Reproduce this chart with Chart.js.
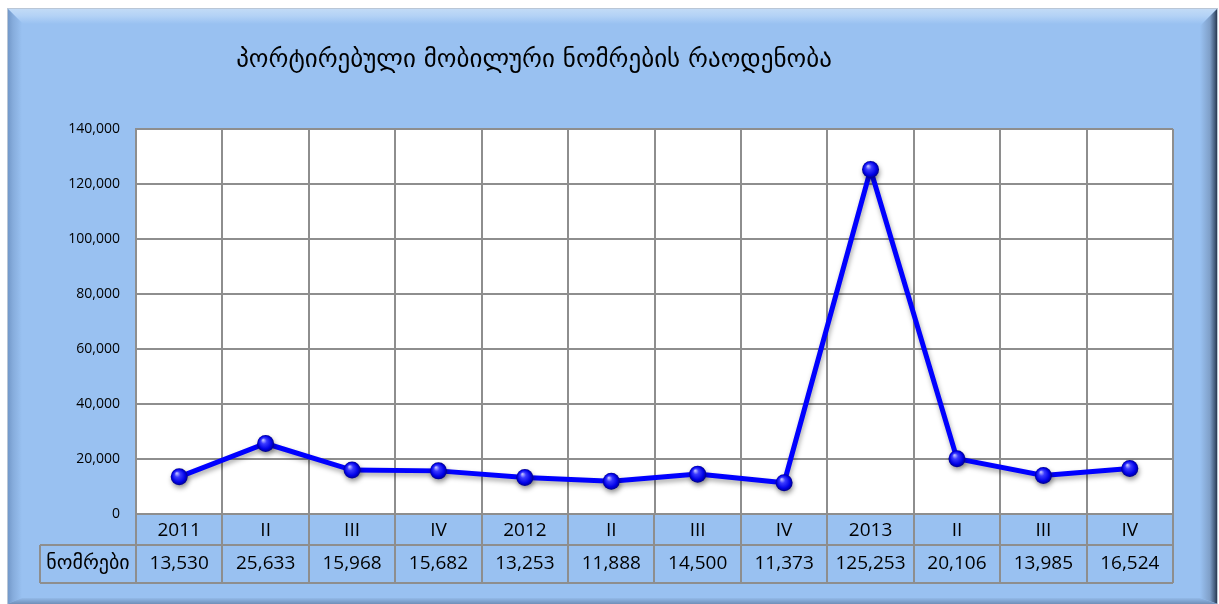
<!DOCTYPE html>
<html>
<head>
<meta charset="utf-8">
<script src="https://cdn.jsdelivr.net/npm/chart.js@4/dist/chart.umd.min.js"></script>
<style>
  html, body { margin: 0; padding: 0; background: #fff; }
  #wrap { width: 1219px; height: 604px; }
</style>
</head>
<body>
<div id="wrap"><canvas id="numbersChart" width="1219" height="604"></canvas></div>
<script>
var chartTitle = "პორტირებული მობილური ნომრების რაოდენობა";
var seriesName = "ნომრები";
var quarters = ["2011", "II", "III", "IV", "2012", "II", "III", "IV", "2013", "II", "III", "IV"];
var ported = [13530, 25633, 15968, 15682, 13253, 11888, 14500, 11373, 125253, 20106, 13985, 16524];
var yTicks = [0, 20000, 40000, 60000, 80000, 100000, 120000, 140000];

var gridGrey = '#8e8e8e';
var panelBlue = '#99c1f1';
var txtFont = '"Open Sans", "DejaVu Sans", sans-serif';
var geoFont = '"DejaVu Sans", sans-serif';

// frame + bevel behind everything
var framePlugin = {
    id: 'frame',
    beforeDraw: function(chart) {
        var ctx = chart.ctx;
        var W = chart.width, H = chart.height;
        var L = 7, T = 8, R = 1218, B = 604;
        ctx.save();
        ctx.fillStyle = '#ffffff';
        ctx.fillRect(0, 0, W, H);
        ctx.fillStyle = panelBlue;
        ctx.fillRect(L, T, R - L, B - T);
        // top bevel
        var g = ctx.createLinearGradient(0, T, 0, T + 16);
        g.addColorStop(0, '#c4dcf6');
        g.addColorStop(0.5, '#b3d2f6');
        g.addColorStop(1, panelBlue);
        ctx.fillStyle = g;
        ctx.beginPath();
        ctx.moveTo(L, T); ctx.lineTo(R, T); ctx.lineTo(R - 16, T + 16); ctx.lineTo(L + 16, T + 16);
        ctx.closePath(); ctx.fill();
        // left bevel
        g = ctx.createLinearGradient(L, 0, L + 15, 0);
        g.addColorStop(0, '#6f95c6');
        g.addColorStop(0.4, '#86acdc');
        g.addColorStop(1, panelBlue);
        ctx.fillStyle = g;
        ctx.beginPath();
        ctx.moveTo(L, T); ctx.lineTo(L + 15, T + 15); ctx.lineTo(L + 15, B - 6); ctx.lineTo(L, B);
        ctx.closePath(); ctx.fill();
        // right bevel
        g = ctx.createLinearGradient(R - 18, 0, R, 0);
        g.addColorStop(0, panelBlue);
        g.addColorStop(0.55, '#7f9fc8');
        g.addColorStop(0.8, '#4a6283');
        g.addColorStop(1, '#1e2a3c');
        ctx.fillStyle = g;
        ctx.beginPath();
        ctx.moveTo(R, T); ctx.lineTo(R, B); ctx.lineTo(R - 18, B - 6); ctx.lineTo(R - 18, T + 18);
        ctx.closePath(); ctx.fill();
        // bottom bevel
        g = ctx.createLinearGradient(0, B - 7, 0, B);
        g.addColorStop(0, panelBlue);
        g.addColorStop(1, '#6f8fb8');
        ctx.fillStyle = g;
        ctx.beginPath();
        ctx.moveTo(L + 15, B - 6); ctx.lineTo(R - 18, B - 6); ctx.lineTo(R, B); ctx.lineTo(L, B);
        ctx.closePath(); ctx.fill();
        ctx.strokeStyle = '#b9c6d6';
        ctx.lineWidth = 1;
        ctx.strokeRect(L + 0.5, T + 0.5, R - L - 1, B - T);
        // white plot area
        var a = chart.chartArea;
        ctx.fillStyle = '#ffffff';
        ctx.fillRect(a.left, a.top, a.right - a.left, a.bottom - a.top);
        // title
        ctx.fillStyle = '#000000';
        ctx.font = '25px ' + geoFont;
        ctx.textAlign = 'center';
        ctx.textBaseline = 'middle';
        ctx.fillText(chartTitle, 534, 60);
        ctx.restore();
    }
};

// data table under the plot, built from the scale positions
var tablePlugin = {
    id: 'dataTable',
    afterDraw: function(chart) {
        var ctx = chart.ctx;
        var x = chart.scales.x;
        var a = chart.chartArea;
        var labels = chart.data.labels;
        var vals = chart.data.datasets[0].data;
        var half = (x.getPixelForValue(1) - x.getPixelForValue(0)) / 2;
        var r1top = a.bottom, r1bot = a.bottom + 31, r2bot = a.bottom + 69;
        var labelLeft = 40;
        ctx.save();
        ctx.strokeStyle = gridGrey;
        ctx.lineWidth = 2;
        ctx.beginPath();
        ctx.moveTo(a.left, r1bot); ctx.lineTo(a.right, r1bot);
        ctx.moveTo(labelLeft, r1bot); ctx.lineTo(a.left, r1bot);
        ctx.moveTo(labelLeft, r2bot); ctx.lineTo(a.right, r2bot);
        ctx.moveTo(labelLeft, r1bot); ctx.lineTo(labelLeft, r2bot);
        for (var i = 0; i <= labels.length; i++) {
            var px = i < labels.length ? x.getPixelForValue(i) - half : x.getPixelForValue(labels.length - 1) + half;
            px = Math.round(px);
            ctx.moveTo(px, r1top); ctx.lineTo(px, r2bot);
        }
        ctx.stroke();
        ctx.fillStyle = '#000000';
        ctx.textAlign = 'center';
        ctx.textBaseline = 'middle';
        ctx.font = '19px ' + txtFont;
        for (var j = 0; j < labels.length; j++) {
            var cx = x.getPixelForValue(j);
            ctx.fillText(labels[j], cx, (r1top + r1bot) / 2 + 1);
            ctx.fillText(vals[j].toLocaleString('en-US'), cx, (r1bot + r2bot) / 2);
        }
        ctx.font = '20px ' + geoFont;
        ctx.fillText(chart.data.datasets[0].label, (labelLeft + a.left) / 2, (r1bot + r2bot) / 2);
        ctx.restore();
    }
};

// soft shadow on the line and sphere-like markers
var spherePlugin = {
    id: 'spheres',
    beforeDatasetDraw: function(chart) {
        var ctx = chart.ctx;
        ctx.save();
        ctx.shadowColor = 'rgba(0,0,0,0.35)';
        ctx.shadowBlur = 5;
        ctx.shadowOffsetX = 1;
        ctx.shadowOffsetY = 3;
    },
    afterDatasetDraw: function(chart) {
        chart.ctx.restore();
    },
    afterDatasetsDraw: function(chart) {
        var ctx = chart.ctx;
        var pts = chart.getDatasetMeta(0).data;
        ctx.save();
        pts.forEach(function(p) {
            var r = 8.5;
            ctx.save();
            ctx.shadowColor = 'rgba(0,0,0,0.4)';
            ctx.shadowBlur = 5;
            ctx.shadowOffsetX = 1;
            ctx.shadowOffsetY = 3;
            var g = ctx.createRadialGradient(p.x - 2.5, p.y - 3.5, 0.5, p.x, p.y, r);
            g.addColorStop(0, '#b8b8ff');
            g.addColorStop(0.3, '#3a3aff');
            g.addColorStop(0.75, '#0000e6');
            g.addColorStop(1, '#00008a');
            ctx.fillStyle = g;
            ctx.beginPath();
            ctx.arc(p.x, p.y, r, 0, Math.PI * 2);
            ctx.fill();
            ctx.restore();
        });
        ctx.restore();
    }
};

var ctxL = document.getElementById('numbersChart').getContext('2d');
var numbersChart = new Chart(ctxL, {
    type: 'line',
    data: {
        labels: quarters,
        datasets: [{
            label: seriesName,
            data: ported,
            borderColor: '#0000ff',
            borderWidth: 5,
            pointRadius: 0,
            pointHoverRadius: 0,
            tension: 0,
            fill: false
        }]
    },
    options: {
        responsive: false,
        animation: false,
        devicePixelRatio: 1,
        layout: { padding: { left: 0, top: 129, right: 46, bottom: 90 } },
        plugins: {
            legend: { display: false },
            title: { display: false },
            tooltip: { enabled: false }
        },
        scales: {
            x: {
                type: 'category',
                offset: true,
                grid: { offset: true, color: gridGrey, lineWidth: 2, drawTicks: false },
                border: { color: gridGrey, width: 2 },
                ticks: { display: false },
                afterFit: function(s) { s.height = 0; }
            },
            y: {
                min: 0,
                max: 140000,
                afterBuildTicks: function(s) { s.ticks = yTicks.map(function(v) { return { value: v }; }); },
                grid: { color: gridGrey, lineWidth: 2, drawTicks: false },
                border: { color: gridGrey, width: 2 },
                ticks: {
                    padding: 16,
                    color: '#000000',
                    font: { family: txtFont, size: 14 },
                    callback: function(v) { return v.toLocaleString('en-US'); }
                },
                afterFit: function(s) { s.width = 136; }
            }
        }
    },
    plugins: [framePlugin, tablePlugin, spherePlugin]
});
</script>
</body>
</html>
